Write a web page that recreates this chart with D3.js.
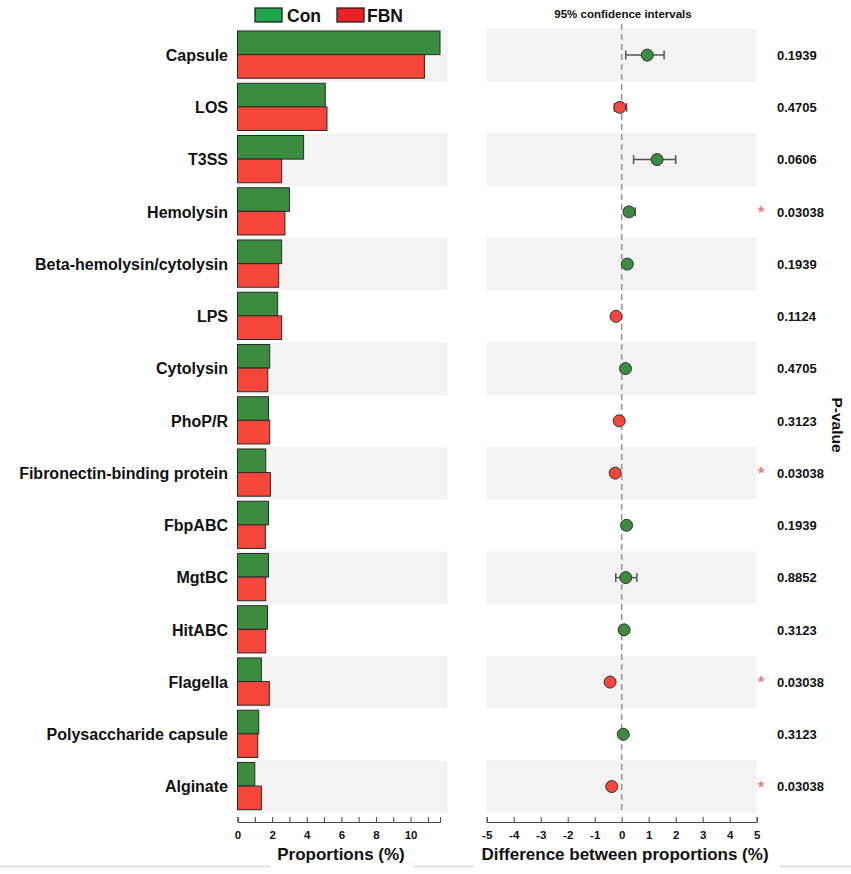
<!DOCTYPE html>
<html>
<head>
<meta charset="utf-8">
<script src="https://cdn.jsdelivr.net/npm/d3@7"></script>
<style>
  body { margin: 0; background: #fff; }
  text { font-family: "Liberation Sans", Arial, sans-serif; fill: #111; }
</style>
</head>
<body>
<div id="chart"></div>
<script>
// data
var categories = ["Capsule", "LOS", "T3SS", "Hemolysin", "Beta-hemolysin/cytolysin", "LPS",
  "Cytolysin", "PhoP/R", "Fibronectin-binding protein", "FbpABC", "MgtBC", "HitABC",
  "Flagella", "Polysaccharide capsule", "Alginate"];
var conValues = [11.7, 5.07, 3.82, 3.0, 2.55, 2.32, 1.86, 1.79, 1.63, 1.79, 1.79, 1.73, 1.38, 1.23, 1.0];
var fbnValues = [10.8, 5.17, 2.55, 2.74, 2.38, 2.55, 1.75, 1.86, 1.90, 1.61, 1.63, 1.63, 1.84, 1.17, 1.38];
var diffValues = [0.95, -0.07, 1.31, 0.27, 0.21, -0.21, 0.14, -0.09, -0.24, 0.18, 0.15, 0.09, -0.43, 0.06, -0.37];
var ciLow = [0.15, -0.27, 0.44, 0.11, 0.12, -0.30, 0.04, -0.17, -0.30, 0.10, -0.22, 0.03, -0.50, 0.00, -0.44];
var ciHigh = [1.57, 0.18, 2.00, 0.50, 0.30, -0.12, 0.25, 0.00, -0.18, 0.27, 0.56, 0.15, -0.36, 0.12, -0.30];
var pValues = ["0.1939", "0.4705", "0.0606", "0.03038", "0.1939", "0.1124", "0.4705", "0.3123",
  "0.03038", "0.1939", "0.8852", "0.3123", "0.03038", "0.3123", "0.03038"];
var propTicks = [0, 1, 2, 3, 4, 5, 6, 7, 8, 9, 10, 11];
var diffTicks = [-5, -4, -3, -2, -1, 0, 1, 2, 3, 4, 5];

var svgWidth = 851, svgHeight = 874;
var green = "#3b8c3f", red = "#f4463a";

var svg = d3.select("#chart").append("svg")
  .attr("width", svgWidth)
  .attr("height", svgHeight);

// rows
var yscale = d3.scaleBand().domain(categories).range([29, 812.7]);
var rowH = yscale.bandwidth();

// left and right x scales
var xprop = d3.scaleLinear().domain([0, 11.7]).range([237.5, 440]);
var xdiff = d3.scaleLinear().domain([-5, 5]).range([486.7, 756.7]);

// alternating background bands
var bands = svg.append("g");
categories.forEach(function(c, i) {
  if (i % 2 == 0) {
    bands.append("rect").attr("x", 237.5).attr("y", yscale(c))
      .attr("width", 210).attr("height", rowH).attr("fill", "#f3f3f3");
    bands.append("rect").attr("x", 486.7).attr("y", yscale(c))
      .attr("width", 270).attr("height", rowH).attr("fill", "#f3f3f3");
  }
});

// category labels
svg.append("g").selectAll("text")
  .data(categories)
  .enter()
  .append("text")
  .attr("x", 228)
  .attr("y", d => yscale(d) + rowH / 2)
  .attr("dy", "0.36em")
  .attr("text-anchor", "end")
  .style("font-size", "16px")
  .style("font-weight", "bold")
  .text(d => d);

// bars
var barTop = 2, barH = (rowH - 5) / 2;
svg.append("g").selectAll("rect")
  .data(categories)
  .enter()
  .append("rect")
  .attr("x", xprop(0))
  .attr("y", d => yscale(d) + barTop)
  .attr("width", (d, i) => xprop(conValues[i]) - xprop(0))
  .attr("height", barH)
  .attr("fill", green)
  .attr("stroke", "#2a2a2a")
  .attr("stroke-width", 1);

svg.append("g").selectAll("rect")
  .data(categories)
  .enter()
  .append("rect")
  .attr("x", xprop(0))
  .attr("y", d => yscale(d) + barTop + barH)
  .attr("width", (d, i) => xprop(fbnValues[i]) - xprop(0))
  .attr("height", barH)
  .attr("fill", red)
  .attr("stroke", "#2a2a2a")
  .attr("stroke-width", 1);

// axes
var axisY = 822;
var propAxis = d3.axisBottom(xprop)
  .tickValues(propTicks)
  .tickSize(-5)
  .tickSizeOuter(-5)
  .tickPadding(9)
  .tickFormat(d => d % 2 == 0 ? d : "");
var diffAxis = d3.axisBottom(xdiff)
  .tickValues(diffTicks)
  .tickSize(-5)
  .tickSizeOuter(-5)
  .tickPadding(9)
  .tickFormat(d => d);

[svg.append("g").attr("transform", `translate(0, ${axisY})`).call(propAxis),
 svg.append("g").attr("transform", `translate(0, ${axisY})`).call(diffAxis)]
  .forEach(function(g) {
    g.select(".domain").attr("stroke", "#444");
    g.selectAll(".tick line").attr("stroke", "#444");
    g.selectAll(".tick text")
      .style("font-size", "11.5px")
      .style("font-weight", "bold")
      .style("font-family", "'Liberation Sans', Arial, sans-serif")
      .attr("fill", "#111");
  });

// zero line
svg.append("line")
  .attr("x1", xdiff(0)).attr("x2", xdiff(0))
  .attr("y1", 24).attr("y2", 814)
  .attr("stroke", "#9a9a9a")
  .attr("stroke-width", 1.6)
  .attr("stroke-dasharray", "6,4");

// confidence intervals
var ci = svg.append("g");
categories.forEach(function(c, i) {
  var cy = yscale(c) + rowH / 2;
  ci.append("line")
    .attr("x1", xdiff(ciLow[i])).attr("x2", xdiff(ciHigh[i]))
    .attr("y1", cy).attr("y2", cy)
    .attr("stroke", "#555").attr("stroke-width", 1.5);
  [ciLow[i], ciHigh[i]].forEach(function(v) {
    ci.append("line")
      .attr("x1", xdiff(v)).attr("x2", xdiff(v))
      .attr("y1", cy - 4.5).attr("y2", cy + 4.5)
      .attr("stroke", "#555").attr("stroke-width", 1.5);
  });
});

// difference points
svg.append("g").selectAll("circle")
  .data(categories)
  .enter()
  .append("circle")
  .attr("cx", (d, i) => xdiff(diffValues[i]))
  .attr("cy", d => yscale(d) + rowH / 2)
  .attr("r", 6)
  .attr("fill", (d, i) => diffValues[i] > 0 ? green : red)
  .attr("stroke", "#333")
  .attr("stroke-width", 1);

// p-values and stars
svg.append("g").selectAll("text")
  .data(categories)
  .enter()
  .append("text")
  .attr("x", 777)
  .attr("y", d => yscale(d) + rowH / 2)
  .attr("dy", "0.36em")
  .style("font-size", "13px")
  .style("font-weight", "bold")
  .text((d, i) => pValues[i]);

svg.append("g").selectAll("text")
  .data(categories.filter((d, i) => +pValues[i] < 0.05))
  .enter()
  .append("text")
  .attr("x", 761)
  .attr("y", d => yscale(d) + rowH / 2)
  .attr("dy", "0.38em")
  .attr("text-anchor", "middle")
  .style("font-size", "16px")
  .style("font-weight", "bold")
  .style("fill", "#f27a7a")
  .text("*");

svg.append("text")
  .attr("transform", "translate(832, 425) rotate(90)")
  .attr("text-anchor", "middle")
  .style("font-size", "15.5px")
  .style("font-weight", "bold")
  .text("P-value");

// titles
svg.append("text")
  .attr("x", 623).attr("y", 18)
  .attr("text-anchor", "middle")
  .style("font-size", "11.5px")
  .style("font-weight", "bold")
  .text("95% confidence intervals");

svg.append("text")
  .attr("x", 341).attr("y", 860)
  .attr("text-anchor", "middle")
  .style("font-size", "17px")
  .style("font-weight", "bold")
  .text("Proportions (%)");

svg.append("text")
  .attr("x", 625).attr("y", 860)
  .attr("text-anchor", "middle")
  .style("font-size", "17px")
  .style("font-weight", "bold")
  .text("Difference between proportions (%)");

// legend
var legend = [["Con", "#1fa54e", 255, 287], ["FBN", "#ea2226", 337, 367]];
legend.forEach(function(l) {
  svg.append("rect")
    .attr("x", l[2]).attr("y", 8)
    .attr("width", 27).attr("height", 14)
    .attr("fill", l[1])
    .attr("stroke", "#222").attr("stroke-width", 1.3);
  svg.append("text")
    .attr("x", l[3]).attr("y", 21.5)
    .style("font-size", "17.5px")
    .style("font-weight", "bold")
    .text(l[0]);
});

// faint rules under the axis titles
[[0, 270], [413, 474], [780, 851]].forEach(function(s) {
  svg.append("line")
    .attr("x1", s[0]).attr("x2", s[1])
    .attr("y1", 866.5).attr("y2", 866.5)
    .attr("stroke", "#dcdcdc").attr("stroke-width", 1.5);
});
</script>
</body>
</html>
